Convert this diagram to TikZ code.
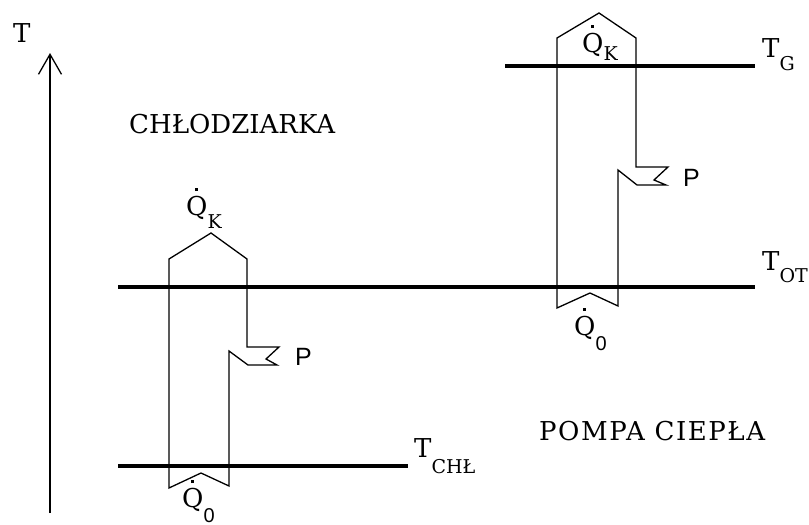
\documentclass[tikz,border=0pt]{standalone}
\usepackage{fontspec}
\setsansfont{Liberation Sans}
\newfontfamily\labfont{DejaVu Serif}
\usetikzlibrary{arrows.meta}
\newcommand{\lowsub}[2][14pt]{\raisebox{-#1}{\fontsize{19}{19}\selectfont #2}}
\newcommand{\zerosub}[1][15pt]{\raisebox{-#1}{\sffamily\fontsize{20}{20}\selectfont 0}}
\newcommand{\qdot}{{\ooalign{Q\cr\hidewidth\raisebox{24pt}{\rule{3pt}{3.5pt}}\hidewidth\cr}}}

\begin{document}
\begin{tikzpicture}[x=1pt, y=-1pt,
  iso/.style={line width=3.2pt},
  dev/.style={line width=1.3pt, line join=miter},
  axis/.style={line width=1.3pt, -{Straight Barb[length=20pt, width=23pt]}},
  lab/.style={inner sep=0pt, anchor=base west, font=\labfont\fontsize{26}{26}\selectfont},
  plab/.style={inner sep=0pt, anchor=base west, font=\sffamily\fontsize{25}{25}\selectfont},
]
\useasboundingbox (0,0) rectangle (809,525);

% temperature axis
\coordinate (tlo) at (50,513);
\coordinate (tup) at (50,53);
\draw[axis] (tlo) -- (tup);
\node[lab] (tlab) at (13,42) {T};

% isotherms
\coordinate (gA) at (505,66);   \coordinate (gB) at (755,66);
\coordinate (otA) at (118,287); \coordinate (otB) at (755,287);
\coordinate (chA) at (118,466); \coordinate (chB) at (408,466);
\draw[iso] (gA) -- (gB);
\draw[iso] (otA) -- (otB);
\draw[iso] (chA) -- (chB);
\node[lab] (tg)  at (762,57)  {T\lowsub[13pt]{G}};
\node[lab] (tot) at (762,270) {T\lowsub[12pt]{OT}};
\node[lab] (tch) at (414,457) {T\lowsub[16pt]{CHŁ}};

% chlodziarka
\draw[dev] (169,488) -- (169,259) -- (211,233) -- (247,259) -- (247,347)
  -- (279,347) -- (266,359) -- (277,365) -- (248,365) -- (229,351)
  -- (229,486) -- (201,473) -- cycle;
\node[lab] (chl) at (129,133) {CHŁODZIARKA};
\node[lab] (qkL) at (186,215) {\qdot\lowsub[13pt]{K}};
\node[lab] (q0L) at (182,507) {\qdot\zerosub[15pt]};
\node[plab] (pL) at (295,365) {P};

% pompa ciepla
\draw[dev] (557,308) -- (557,38) -- (599,13) -- (636,38) -- (636,167)
  -- (668,167) -- (654,180) -- (666,185) -- (637,185) -- (618,170)
  -- (618,306) -- (590,293) -- cycle;
\node[lab] (pc) at (539,440) {\addfontfeature{LetterSpace=6}POMPA CIEPŁA};
\node[lab] (qkR) at (582,52) {\qdot\lowsub[8pt]{K}};
\node[lab] (q0R) at (574,335) {\qdot\zerosub[15pt]};
\node[plab] (pR) at (683,186) {P};
\end{tikzpicture}
\end{document}
